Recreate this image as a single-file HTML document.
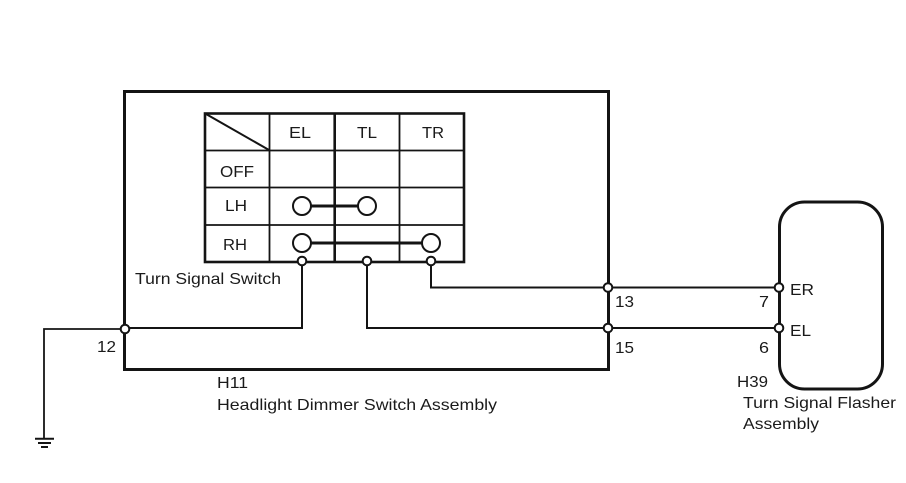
<!DOCTYPE html>
<html>
<head>
<meta charset="utf-8">
<style>
html,body{margin:0;padding:0;background:#fff;width:906px;height:483px;overflow:hidden}
svg{display:block;filter:blur(0.35px)}
text{font-family:"Liberation Sans",sans-serif;font-size:16px;fill:#1a1a1a}
</style>
</head>
<body>
<svg width="906" height="483" viewBox="0 0 906 483" xmlns="http://www.w3.org/2000/svg">
<rect width="906" height="483" fill="#fff"/>
<g fill="none" stroke="#141414">
  <rect x="124.500" y="91.500" width="484" height="278" stroke-width="3"/>
  <rect x="779.500" y="202" width="103" height="187" rx="25" ry="25" stroke-width="3"/>
  <rect x="205" y="113.500" width="259" height="148.500" stroke-width="2.600"/>
  <path d="M269.500 113.500V262M399.500 113.500V262" stroke-width="1.800"/>
  <path d="M334.700 113.500V262" stroke-width="2.600"/>
  <path d="M205 150.500H464M205 187.500H464M205 225H464" stroke-width="1.800"/>
  <path d="M206 114L269 150" stroke-width="2"/>
  <path d="M302 206H367M302 243H431" stroke-width="3"/>
  <path d="M431 261V287.500H779M367 261V328H779M302 261V328H125" stroke-width="2"/>
  <path d="M125 329H44V438" stroke-width="1.800"/>
  <path d="M35 438.700H54M38 443H51M41 447H48" stroke-width="2"/>
</g>
<g fill="#fff" stroke="#141414" stroke-width="2">
  <circle cx="302" cy="206" r="9"/>
  <circle cx="367" cy="206" r="9"/>
  <circle cx="302" cy="243" r="9"/>
  <circle cx="431" cy="243" r="9"/>
  <circle cx="302" cy="261" r="4.300"/>
  <circle cx="367" cy="261" r="4.300"/>
  <circle cx="431" cy="261" r="4.300"/>
  <circle cx="125" cy="329" r="4.300"/>
  <circle cx="608" cy="287.500" r="4.300"/>
  <circle cx="608" cy="328" r="4.300"/>
  <circle cx="779" cy="287.500" r="4.300"/>
  <circle cx="779" cy="328" r="4.300"/>
</g>
<text x="289" y="138" textLength="22" lengthAdjust="spacingAndGlyphs">EL</text>
<text x="357" y="138" textLength="20" lengthAdjust="spacingAndGlyphs">TL</text>
<text x="422" y="138" textLength="22" lengthAdjust="spacingAndGlyphs">TR</text>
<text x="220" y="177" textLength="34" lengthAdjust="spacingAndGlyphs">OFF</text>
<text x="225" y="211" textLength="22" lengthAdjust="spacingAndGlyphs">LH</text>
<text x="223" y="250" textLength="24" lengthAdjust="spacingAndGlyphs">RH</text>
<text x="135" y="284" textLength="146" lengthAdjust="spacingAndGlyphs">Turn Signal Switch</text>
<text x="97" y="352" textLength="19" lengthAdjust="spacingAndGlyphs">12</text>
<text x="615" y="307" textLength="19" lengthAdjust="spacingAndGlyphs">13</text>
<text x="615" y="353" textLength="19" lengthAdjust="spacingAndGlyphs">15</text>
<text x="759" y="307" textLength="10" lengthAdjust="spacingAndGlyphs">7</text>
<text x="759" y="353" textLength="10" lengthAdjust="spacingAndGlyphs">6</text>
<text x="790" y="295" textLength="24" lengthAdjust="spacingAndGlyphs">ER</text>
<text x="790" y="336" textLength="21" lengthAdjust="spacingAndGlyphs">EL</text>
<text x="217" y="388" textLength="31" lengthAdjust="spacingAndGlyphs">H11</text>
<text x="217" y="410" textLength="280" lengthAdjust="spacingAndGlyphs">Headlight Dimmer Switch Assembly</text>
<text x="737" y="387" textLength="31" lengthAdjust="spacingAndGlyphs">H39</text>
<text x="743" y="408" textLength="153" lengthAdjust="spacingAndGlyphs">Turn Signal Flasher</text>
<text x="743" y="429" textLength="76" lengthAdjust="spacingAndGlyphs">Assembly</text>
</svg>
</body>
</html>
